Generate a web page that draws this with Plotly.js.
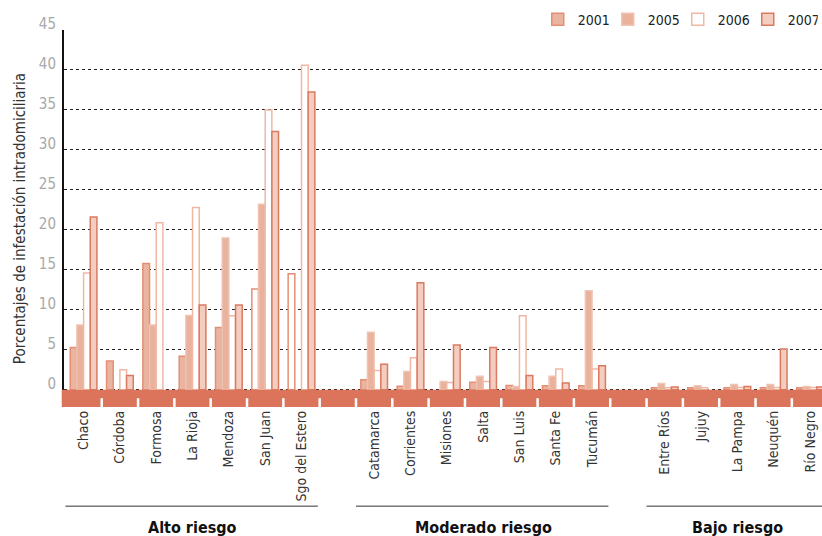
<!DOCTYPE html>
<html>
<head>
<meta charset="utf-8">
<script src="https://cdn.plot.ly/plotly-3.0.1.min.js"></script>
<style>html,body{margin:0;padding:0;background:#fff;}</style>
</head>
<body>
<div id="chart" style="width:822px;height:536px;"></div>
<script>
// ---- data ----
const altoRiesgo = ["Chaco", "Córdoba", "Formosa", "La Rioja", "Mendoza", "San Juan", "Sgo del Estero"];
const moderadoRiesgo = ["Catamarca", "Corrientes", "Misiones", "Salta", "San Luis", "Santa Fe", "Tucumán"];
const bajoRiesgo = ["Entre Ríos", "Jujuy", "La Pampa", "Neuquén", "Río Negro"];
const groupNames = ["Alto riesgo", "Moderado riesgo", "Bajo riesgo"];
const years = ["2001", "2005", "2006", "2007"];

const v2001 = [5.3, 3.6, 15.8, 4.2, 7.8, 12.6, 14.5, 1.25, 0.45, null, 0.95, 0.55, 0.5, 0.5, 0.25, 0.25, 0.25, 0.25, 0.25];
const v2005 = [8.1, null, 8.1, 9.3, 19.0, 23.2, null, 7.2, 2.3, 1.05, 1.7, 0.4, 1.7, 12.4, 0.8, 0.5, 0.65, 0.65, 0.4];
const v2006 = [14.6, 2.5, 20.9, 22.8, 9.25, 35.0, 40.6, 2.4, 4.0, 0.9, 1.05, 9.25, 2.6, 2.6, 0.25, 0.25, 0.3, 0.3, 0.3];
const v2007 = [21.6, 1.8, null, 10.6, 10.6, 32.3, 37.25, 3.2, 13.4, 5.6, 5.3, 1.8, 0.85, 3.0, 0.35, null, 0.4, 5.1, 0.35];

// ---- layout of slots (one empty slot between groups) ----
const groups = [altoRiesgo, moderadoRiesgo, bajoRiesgo];
const xs = [], names = [], groupSpans = [];
let pos = 0;
groups.forEach((g, gi) => {
  const start = pos;
  g.forEach(n => { xs.push(pos); names.push(n); pos++; });
  groupSpans.push([start, pos - 1]);
  pos++; // gap slot
});
const lastSlot = xs[xs.length - 1];

const FONT = '"Liberation Sans Narrow", "DejaVu Sans Condensed", "Roboto", sans-serif';

const fill2001 = names.map(n => (n === "San Juan" || n === "Sgo del Estero") ? "#ffffff" : "#eab5a0");

const traces = [
  {name: years[0], y: v2001, marker: {color: fill2001, line: {color: "#e48f75", width: 1.5}}},
  {name: years[1], y: v2005, marker: {color: "#e9b29c", line: {color: "#f0c3b2", width: 1.5}}},
  {name: years[2], y: v2006, marker: {color: "#ffffff", line: {color: "#f0b8a4", width: 1.5}}},
  {name: years[3], y: v2007, marker: {color: "#f3cdbf", line: {color: "#da7a60", width: 1.5}}}
].map(t => Object.assign({type: "bar", x: xs, hoverinfo: "skip"}, t));

const Y0 = -2.15;
const shapes = [];
// salmon band under the axis
shapes.push({type: "rect", xref: "paper", yref: "y", x0: -0.003, x1: 1, y0: Y0, y1: 0,
  fillcolor: "#db745a", line: {width: 0}, layer: "above"});
// white boundary ticks inside the band
for (let k = 0; k < lastSlot; k++) {
  shapes.push({type: "line", xref: "x", yref: "y", x0: k + 0.5, x1: k + 0.5, y0: Y0, y1: -1.05,
    line: {color: "#ffffff", width: 2.5}, layer: "above"});
}
// group underlines
groupSpans.forEach(([a, b], i) => {
  shapes.push({type: "line", xref: "x", yref: "paper", x0: a - 0.5, x1: b + 0.45, y0: -0.263, y1: -0.263,
    line: {color: "#333333", width: 1}});
});

const annotations = groupSpans.map(([a, b], i) => ({
  xref: "x", yref: "paper", x: (a + b) / 2, y: -0.32, text: "<b>" + groupNames[i] + "</b>", showarrow: false,
  font: {family: FONT, size: 16, color: "#111111"}, xanchor: "center", yanchor: "middle"
}));

const layout = {
  width: 822, height: 536,
  margin: {l: 64, r: 0, t: 30, b: 129, autoexpand: false},
  paper_bgcolor: "#ffffff", plot_bgcolor: "#ffffff",
  barmode: "group", bargap: 0.265, bargroupgap: 0,
  font: {family: FONT, color: "#333333"},
  showlegend: true,
  legend: {orientation: "h", x: 0.625, xanchor: "left", y: 0.985, yanchor: "bottom",
    font: {family: FONT, size: 14, color: "#222222"}, entrywidth: 25, itemclick: false,
    bgcolor: "rgba(0,0,0,0)"},
  xaxis: {range: [-0.539, 20.33], tickmode: "array", tickvals: xs, ticktext: names,
    tickangle: -90, ticks: "", showgrid: false, zeroline: false, showline: false,
    tickfont: {family: FONT, size: 14, color: "#333333"}, fixedrange: true, automargin: false},
  yaxis: {range: [Y0, 45], tickmode: "array", tickvals: [0, 5, 10, 15, 20, 25, 30, 35, 40, 45],
    showgrid: true, gridcolor: "#222222", gridwidth: 1, griddash: "dot", zeroline: false,
    showline: true, linecolor: "#111111", linewidth: 2, ticks: "",
    ticklabelshift: -6, ticklabelstandoff: 3, automargin: false,
    tickfont: {family: FONT, size: 15, color: "#a8a8a8"},
    title: {text: "Porcentajes de infestación intradomiciliaria", standoff: 10,
      font: {family: FONT, size: 15, color: "#333333"}}, fixedrange: true},
  shapes: shapes,
  annotations: annotations
};

Plotly.newPlot("chart", traces, layout, {displayModeBar: false, staticPlot: true});
</script>
</body>
</html>
